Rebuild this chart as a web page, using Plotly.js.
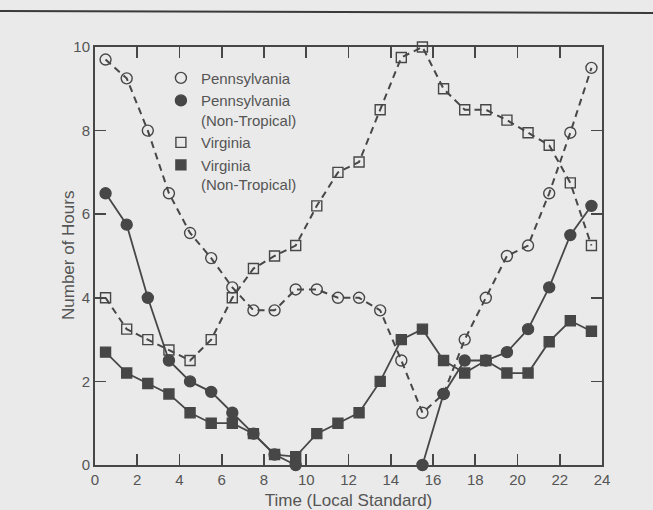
<!DOCTYPE html>
<html>
<head>
<meta charset="utf-8">
<script src="https://cdn.plot.ly/plotly-3.0.1.min.js"></script>
<style>
html,body{margin:0;padding:0;background:#eaeaea;}
#chart{width:653px;height:510px;}
</style>
</head>
<body>
<div id="chart"></div>
<script>
// Local standard time (hour midpoints)
var hours = [0.5, 1.5, 2.5, 3.5, 4.5, 5.5, 6.5, 7.5, 8.5, 9.5, 10.5, 11.5,
             12.5, 13.5, 14.5, 15.5, 16.5, 17.5, 18.5, 19.5, 20.5, 21.5, 22.5, 23.5];

var pennsylvania = [9.7, 9.25, 8.0, 6.5, 5.55, 4.95, 4.25, 3.7, 3.7, 4.2, 4.2, 4.0,
                    4.0, 3.7, 2.5, 1.25, 1.7, 3.0, 4.0, 5.0, 5.25, 6.5, 7.95, 9.5];

var pennsylvaniaNT = [6.5, 5.75, 4.0, 2.5, 2.0, 1.75, 1.25, 0.75, 0.25, 0.0, null, null,
                      null, null, null, 0.0, 1.7, 2.5, 2.5, 2.7, 3.25, 4.25, 5.5, 6.2];

var virginia = [4.0, 3.25, 3.0, 2.75, 2.5, 3.0, 4.0, 4.7, 5.0, 5.25, 6.2, 7.0,
                7.25, 8.5, 9.75, 10.0, 9.0, 8.5, 8.5, 8.25, 7.95, 7.65, 6.75, 5.25];

var virginiaNT = [2.7, 2.2, 1.95, 1.7, 1.25, 1.0, 1.0, 0.75, 0.25, 0.2, 0.75, 1.0,
                  1.25, 2.0, 3.0, 3.25, 2.5, 2.2, 2.5, 2.2, 2.2, 2.95, 3.45, 3.2];

var seriesNames = ['Pennsylvania', 'Pennsylvania<br>(Non-Tropical)', 'Virginia', 'Virginia<br>(Non-Tropical)'];
var xTicks = [0, 2, 4, 6, 8, 10, 12, 14, 16, 18, 20, 22, 24];
var yTicks = [0, 2, 4, 6, 8, 10];
var xTitle = 'Time (Local Standard)';
var yTitle = 'Number of Hours';

var ink = '#474747';
var textCol = '#555555';
var dash = '7px,5px';
var fam = 'Liberation Sans, Arial, sans-serif';

function tr(y, symbol, dashed, size, name) {
  return {
    x: hours, y: y, type: 'scatter', mode: 'lines+markers', name: name,
    showlegend: false, cliponaxis: false, connectgaps: false,
    line: {color: ink, width: dashed ? 2 : 1.8, dash: dashed ? dash : 'solid'},
    marker: {symbol: symbol, size: size, color: ink, line: {color: ink, width: 1.4}}
  };
}
function leg(symbol, size, name) {
  return {
    x: [null], y: [null], type: 'scatter', mode: 'markers', name: name,
    marker: {symbol: symbol, size: size, color: ink, line: {color: ink, width: 1.4}}
  };
}

var data = [
  tr(virginia, 'square-open', true, 10, seriesNames[2]),
  tr(pennsylvania, 'circle-open', true, 11, seriesNames[0]),
  tr(virginiaNT, 'square', false, 10, seriesNames[3]),
  tr(pennsylvaniaNT, 'circle', false, 11, seriesNames[1]),
  leg('circle-open', 11, seriesNames[0]),
  leg('circle', 11, seriesNames[1]),
  leg('square-open', 10, seriesNames[2]),
  leg('square', 10, seriesNames[3])
];

var axisCommon = {
  showgrid: false, zeroline: false, showline: true, mirror: 'ticks',
  linecolor: ink, linewidth: 2, ticks: 'inside', ticklen: 11, tickwidth: 1.6,
  tickcolor: ink, tickfont: {family: fam, size: 15, color: textCol}
};

var layout = {
  width: 653, height: 510,
  paper_bgcolor: '#eaeaea', plot_bgcolor: '#eaeaea',
  margin: {l: 95, r: 51, t: 47, b: 45},
  font: {family: fam, color: textCol},
  xaxis: Object.assign({}, axisCommon, {
    range: [0, 24], tickvals: xTicks, ticktext: xTicks.map(String),
    title: {text: xTitle, font: {size: 17, color: textCol}, standoff: 8}
  }),
  yaxis: Object.assign({}, axisCommon, {
    range: [0, 10], tickvals: yTicks, ticktext: yTicks.map(String)
  }),
  annotations: [{
    text: yTitle, xref: 'paper', yref: 'paper', x: (68 - 95) / 507, y: 0.5,
    xanchor: 'center', yanchor: 'middle', textangle: -90, showarrow: false,
    font: {family: fam, size: 17, color: textCol}
  }],
  showlegend: true,
  legend: {
    x: 0.13, y: 0.965, xanchor: 'left', yanchor: 'top',
    bgcolor: 'rgba(0,0,0,0)', borderwidth: 0,
    font: {family: fam, size: 15, color: textCol}, valign: 'top', tracegroupgap: 0,
    itemwidth: 30
  },
  shapes: [{
    type: 'line', xref: 'paper', yref: 'paper',
    x0: -95/507, x1: 558/507, y0: (465-11)/418, y1: (465-13)/418,
    line: {color: '#3a3a3a', width: 2}
  }]
};

Plotly.newPlot('chart', data, layout, {displayModeBar: false, staticPlot: true});
</script>
</body>
</html>
